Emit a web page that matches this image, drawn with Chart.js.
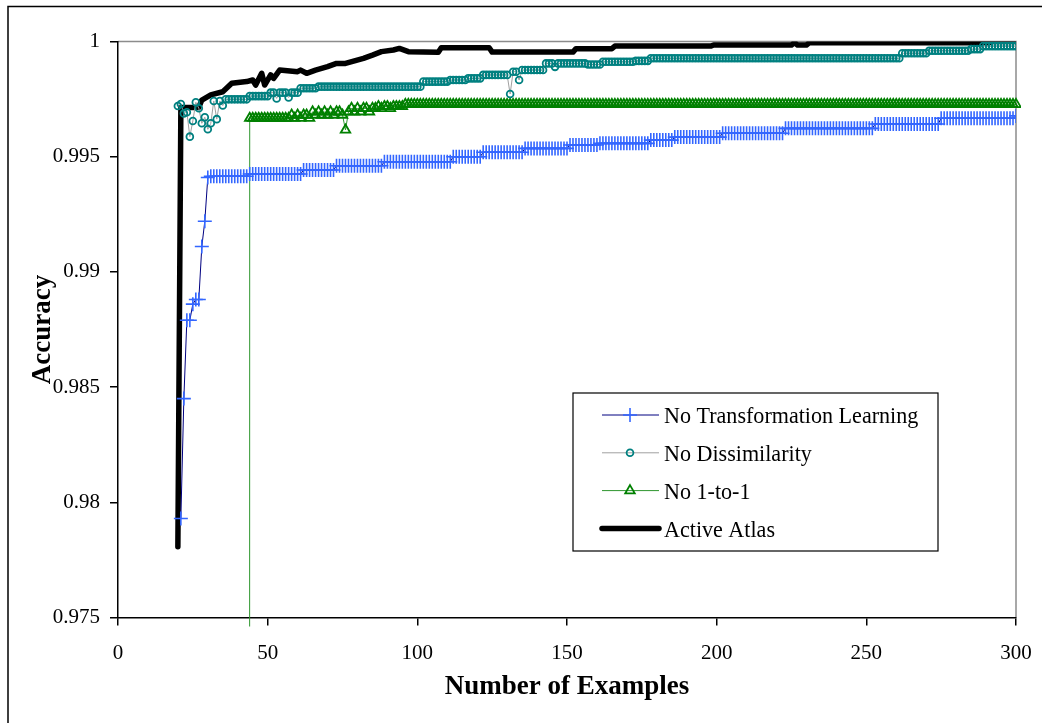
<!DOCTYPE html>
<html>
<head>
<meta charset="utf-8">
<script src="https://cdn.jsdelivr.net/npm/chart.js@4.4.1/dist/chart.umd.min.js"></script>
<style>
  html, body { margin: 0; padding: 0; background: #fff; }
  #myChart { display: block; }
</style>
</head>
<body>
<canvas id="myChart" width="1042" height="723"></canvas>
<script>
var seriesNames = ['No Transformation Learning', 'No Dissimilarity', 'No 1-to-1', 'Active Atlas'];
var xTicks = [0, 50, 100, 150, 200, 250, 300];
var yTicks = [0.975, 0.98, 0.985, 0.99, 0.995, 1];

// marker series: first number of examples, then one accuracy per example
var noTransformationStart = 21;
var noTransformation = [
    0.9793, 0.9845, 0.9879, 0.9879, 0.9886, 0.9888, 0.9888, 0.9911, 0.9922, 0.9941,
    0.99415, 0.99415, 0.99415, 0.99415, 0.99415, 0.99415, 0.99415, 0.99415, 0.99415, 0.99415,
    0.99415, 0.99415, 0.99415, 0.99425, 0.99425, 0.99425, 0.99425, 0.99425, 0.99425, 0.99425,
    0.99425, 0.99425, 0.99425, 0.99425, 0.99425, 0.99425, 0.99425, 0.99425, 0.99425, 0.99425,
    0.99425, 0.99442, 0.99442, 0.99442, 0.99442, 0.99442, 0.99442, 0.99442, 0.99442, 0.99442,
    0.99442, 0.99442, 0.99461, 0.99461, 0.99461, 0.99461, 0.99461, 0.99461, 0.99461, 0.99461,
    0.99461, 0.99461, 0.99461, 0.99461, 0.99461, 0.99461, 0.99461, 0.99461, 0.99478, 0.99478,
    0.99478, 0.99478, 0.99478, 0.99478, 0.99478, 0.99478, 0.99478, 0.99478, 0.99478, 0.99478,
    0.99478, 0.99478, 0.99478, 0.99478, 0.99478, 0.99478, 0.99478, 0.99478, 0.99478, 0.99478,
    0.99478, 0.995, 0.995, 0.995, 0.995, 0.995, 0.995, 0.995, 0.995, 0.995,
    0.995, 0.99519, 0.99519, 0.99519, 0.99519, 0.99519, 0.99519, 0.99519, 0.99519, 0.99519,
    0.99519, 0.99519, 0.99519, 0.99519, 0.99519, 0.99536, 0.99536, 0.99536, 0.99536, 0.99536,
    0.99536, 0.99536, 0.99536, 0.99536, 0.99536, 0.99536, 0.99536, 0.99536, 0.99536, 0.99536,
    0.99551, 0.99551, 0.99551, 0.99551, 0.99551, 0.99551, 0.99551, 0.99551, 0.99551, 0.99551,
    0.99558, 0.99558, 0.99558, 0.99558, 0.99558, 0.99558, 0.99558, 0.99558, 0.99558, 0.99558,
    0.99558, 0.99558, 0.99558, 0.99558, 0.99558, 0.99558, 0.99558, 0.99572, 0.99572, 0.99572,
    0.99572, 0.99572, 0.99572, 0.99572, 0.99572, 0.99585, 0.99585, 0.99585, 0.99585, 0.99585,
    0.99585, 0.99585, 0.99585, 0.99585, 0.99585, 0.99585, 0.99585, 0.99585, 0.99585, 0.99585,
    0.99585, 0.99602, 0.99602, 0.99602, 0.99602, 0.99602, 0.99602, 0.99602, 0.99602, 0.99602,
    0.99602, 0.99602, 0.99602, 0.99602, 0.99602, 0.99602, 0.99602, 0.99602, 0.99602, 0.99602,
    0.99602, 0.99602, 0.99623, 0.99623, 0.99623, 0.99623, 0.99623, 0.99623, 0.99623, 0.99623,
    0.99623, 0.99623, 0.99623, 0.99623, 0.99623, 0.99623, 0.99623, 0.99623, 0.99623, 0.99623,
    0.99623, 0.99623, 0.99623, 0.99623, 0.99623, 0.99623, 0.99623, 0.99623, 0.99623, 0.99623,
    0.99623, 0.99623, 0.99642, 0.99642, 0.99642, 0.99642, 0.99642, 0.99642, 0.99642, 0.99642,
    0.99642, 0.99642, 0.99642, 0.99642, 0.99642, 0.99642, 0.99642, 0.99642, 0.99642, 0.99642,
    0.99642, 0.99642, 0.99642, 0.99642, 0.99667, 0.99667, 0.99667, 0.99667, 0.99667, 0.99667,
    0.99667, 0.99667, 0.99667, 0.99667, 0.99667, 0.99667, 0.99667, 0.99667, 0.99667, 0.99667,
    0.99667, 0.99667, 0.99667, 0.99667, 0.99667, 0.99667, 0.99667, 0.99667, 0.99667, 0.99677
];

var noDissimilarityStart = 20;
var noDissimilarity = [
    0.9972, 0.99729, 0.99688, 0.99693, 0.99587, 0.99655, 0.99736, 0.9971, 0.99645, 0.99671,
    0.99619, 0.99645, 0.99742, 0.99663, 0.99742, 0.99722, 0.99749, 0.99749, 0.99749, 0.99749,
    0.99749, 0.99749, 0.99749, 0.99749, 0.99763, 0.99763, 0.99763, 0.99763, 0.99763, 0.99763,
    0.99763, 0.99778, 0.99778, 0.99753, 0.99778, 0.99778, 0.99778, 0.99757, 0.99778, 0.99778,
    0.99778, 0.99797, 0.99797, 0.99797, 0.99797, 0.99797, 0.99797, 0.99804, 0.99804, 0.99804,
    0.99804, 0.99804, 0.99804, 0.99804, 0.99804, 0.99804, 0.99804, 0.99804, 0.99804, 0.99804,
    0.99804, 0.99804, 0.99804, 0.99804, 0.99804, 0.99804, 0.99804, 0.99804, 0.99804, 0.99804,
    0.99804, 0.99804, 0.99804, 0.99804, 0.99804, 0.99804, 0.99804, 0.99804, 0.99804, 0.99804,
    0.99804, 0.99804, 0.99826, 0.99826, 0.99826, 0.99826, 0.99826, 0.99826, 0.99826, 0.99826,
    0.99826, 0.99833, 0.99833, 0.99833, 0.99833, 0.99833, 0.99833, 0.9984, 0.9984, 0.9984,
    0.9984, 0.9984, 0.99855, 0.99855, 0.99855, 0.99855, 0.99855, 0.99855, 0.99855, 0.99855,
    0.99855, 0.99772, 0.99869, 0.99869, 0.99833, 0.99876, 0.99876, 0.99876, 0.99876, 0.99876,
    0.99876, 0.99876, 0.99876, 0.99905, 0.99905, 0.99905, 0.9989, 0.99905, 0.99905, 0.99905,
    0.99905, 0.99905, 0.99905, 0.99905, 0.99905, 0.99905, 0.99905, 0.999, 0.999, 0.999,
    0.999, 0.999, 0.99912, 0.99912, 0.99912, 0.99912, 0.99912, 0.99912, 0.99912, 0.99912,
    0.99912, 0.99912, 0.99912, 0.99916, 0.99916, 0.99916, 0.99916, 0.99916, 0.99927, 0.99927,
    0.99927, 0.99927, 0.99927, 0.99927, 0.99927, 0.99927, 0.99927, 0.99927, 0.99927, 0.99927,
    0.99927, 0.99927, 0.99927, 0.99927, 0.99927, 0.99927, 0.99927, 0.99927, 0.99927, 0.99927,
    0.99927, 0.99927, 0.99927, 0.99927, 0.99927, 0.99927, 0.99927, 0.99927, 0.99927, 0.99927,
    0.99927, 0.99927, 0.99927, 0.99927, 0.99927, 0.99927, 0.99927, 0.99927, 0.99927, 0.99927,
    0.99927, 0.99927, 0.99927, 0.99927, 0.99927, 0.99927, 0.99927, 0.99927, 0.99927, 0.99927,
    0.99927, 0.99927, 0.99927, 0.99927, 0.99927, 0.99927, 0.99927, 0.99927, 0.99927, 0.99927,
    0.99927, 0.99927, 0.99927, 0.99927, 0.99927, 0.99927, 0.99927, 0.99927, 0.99927, 0.99927,
    0.99927, 0.99927, 0.99927, 0.99927, 0.99927, 0.99927, 0.99927, 0.99927, 0.99927, 0.99927,
    0.99927, 0.99927, 0.99949, 0.99949, 0.99949, 0.99949, 0.99949, 0.99949, 0.99949, 0.99949,
    0.99949, 0.9996, 0.9996, 0.9996, 0.9996, 0.9996, 0.9996, 0.9996, 0.9996, 0.9996,
    0.9996, 0.9996, 0.9996, 0.9996, 0.9996, 0.99967, 0.99967, 0.99967, 0.99967, 0.9998,
    0.9998, 0.9998, 0.9998, 0.9998, 0.9998, 0.9998, 0.9998, 0.9998, 0.9998, 0.9998,
    0.9998
];

var noOneToOneStart = 43;
var noOneToOne = [
    0, 0.99667, 0.99667, 0.99667, 0.99667, 0.99667, 0.99667,
    0.99667, 0.99667, 0.99667, 0.99667, 0.99667, 0.99667, 0.99667, 0.99667, 0.99681, 0.99667,
    0.99681, 0.99667, 0.99681, 0.99681, 0.99667, 0.99695, 0.99681, 0.99695, 0.99681, 0.99695,
    0.99681, 0.99695, 0.99681, 0.99695, 0.99695, 0.99681, 0.99616, 0.99695, 0.9971, 0.99695,
    0.9971, 0.99695, 0.9971, 0.9971, 0.99695, 0.9971, 0.9971, 0.99718, 0.9971, 0.99718,
    0.99718, 0.9971, 0.99718, 0.99718, 0.99718, 0.99718, 0.99727, 0.99727, 0.99727, 0.99727,
    0.99727, 0.99727, 0.99727, 0.99727, 0.99727, 0.99727, 0.99727, 0.99727, 0.99727, 0.99727,
    0.99727, 0.99727, 0.99727, 0.99727, 0.99727, 0.99727, 0.99727, 0.99727, 0.99727, 0.99727,
    0.99727, 0.99727, 0.99727, 0.99727, 0.99727, 0.99727, 0.99727, 0.99727, 0.99727, 0.99727,
    0.99727, 0.99727, 0.99727, 0.99727, 0.99727, 0.99727, 0.99727, 0.99727, 0.99727, 0.99727,
    0.99727, 0.99727, 0.99727, 0.99727, 0.99727, 0.99727, 0.99727, 0.99727, 0.99727, 0.99727,
    0.99727, 0.99727, 0.99727, 0.99727, 0.99727, 0.99727, 0.99727, 0.99727, 0.99727, 0.99727,
    0.99727, 0.99727, 0.99727, 0.99727, 0.99727, 0.99727, 0.99727, 0.99727, 0.99727, 0.99727,
    0.99727, 0.99727, 0.99727, 0.99727, 0.99727, 0.99727, 0.99727, 0.99727, 0.99727, 0.99727,
    0.99727, 0.99727, 0.99727, 0.99727, 0.99727, 0.99727, 0.99727, 0.99727, 0.99727, 0.99727,
    0.99727, 0.99727, 0.99727, 0.99727, 0.99727, 0.99727, 0.99727, 0.99727, 0.99727, 0.99727,
    0.99727, 0.99727, 0.99727, 0.99727, 0.99727, 0.99727, 0.99727, 0.99727, 0.99727, 0.99727,
    0.99727, 0.99727, 0.99727, 0.99727, 0.99727, 0.99727, 0.99727, 0.99727, 0.99727, 0.99727,
    0.99727, 0.99727, 0.99727, 0.99727, 0.99727, 0.99727, 0.99727, 0.99727, 0.99727, 0.99727,
    0.99727, 0.99727, 0.99727, 0.99727, 0.99727, 0.99727, 0.99727, 0.99727, 0.99727, 0.99727,
    0.99727, 0.99727, 0.99727, 0.99727, 0.99727, 0.99727, 0.99727, 0.99727, 0.99727, 0.99727,
    0.99727, 0.99727, 0.99727, 0.99727, 0.99727, 0.99727, 0.99727, 0.99727, 0.99727, 0.99727,
    0.99727, 0.99727, 0.99727, 0.99727, 0.99727, 0.99727, 0.99727, 0.99727, 0.99727, 0.99727,
    0.99727, 0.99727, 0.99727, 0.99727, 0.99727, 0.99727, 0.99727, 0.99727, 0.99727, 0.99727,
    0.99727, 0.99727, 0.99727, 0.99727, 0.99727, 0.99727, 0.99727, 0.99727, 0.99727, 0.99727,
    0.99727, 0.99727, 0.99727, 0.99727, 0.99727, 0.99727, 0.99727, 0.99727, 0.99727, 0.99727,
    0.99727
];

// thick line, no markers: only the points where it changes
var activeAtlasX = [20, 21, 27, 28, 31, 35, 38, 43, 45, 46, 48, 49, 51, 52, 54, 60, 61, 63, 66, 70,
    73, 76, 82, 85, 88, 92, 94, 97, 107, 108, 124, 125, 152, 153, 165, 166, 198, 199, 225, 226,
    227, 230, 231, 291, 292, 300];
var activeAtlasY = [0.97807, 0.99714, 0.99714, 0.99746, 0.99768, 0.99782, 0.99819, 0.99826, 0.99833, 0.99811,
    0.99862, 0.99811, 0.99855, 0.9984, 0.99876, 0.99869, 0.99876, 0.99862, 0.99876, 0.99891,
    0.99905, 0.99905, 0.99927, 0.99941, 0.99956, 0.99963, 0.9997, 0.99956, 0.99953, 0.99973,
    0.99973, 0.99954, 0.99954, 0.99969, 0.99969, 0.9998, 0.9998, 0.99985, 0.99985, 0.99995,
    0.99985, 0.99985, 0.99995, 0.99995, 1, 1];


var toPoints = (start, values) => values.map((v, i) => ({ x: start + i, y: v }));

Chart.defaults.font.family = '"Liberation Serif", "Times New Roman", serif';
Chart.defaults.color = '#000';

// outer frame, grey plot edges and the boxed legend inside the plot
var frameAndLegend = {
    id: 'frameAndLegend',
    beforeDraw: (chart) => {
        const ctx = chart.ctx;
        const a = chart.chartArea;
        ctx.save();
        ctx.fillStyle = '#fff';
        ctx.fillRect(0, 0, chart.width, chart.height);
        ctx.strokeStyle = '#000';
        ctx.lineWidth = 1.5;
        ctx.beginPath();
        ctx.moveTo(8, chart.height);
        ctx.lineTo(8, 6.5);
        ctx.lineTo(chart.width, 6.5);
        ctx.stroke();
        ctx.strokeStyle = '#8c8c8c';
        ctx.lineWidth = 1.5;
        ctx.beginPath();
        ctx.moveTo(a.left, a.top);
        ctx.lineTo(a.right, a.top);
        ctx.lineTo(a.right, a.bottom);
        ctx.stroke();
        ctx.restore();
    },
    afterDraw: (chart) => {
        const ctx = chart.ctx;
        const a = chart.chartArea;
        const bx = a.left + 455, by = a.top + 351.5, bw = 365, bh = 158;
        ctx.save();
        ctx.fillStyle = '#fff';
        ctx.fillRect(bx, by, bw, bh);
        ctx.strokeStyle = '#000';
        ctx.lineWidth = 1.2;
        ctx.strokeRect(bx, by, bw, bh);
        chart.data.datasets.forEach((ds, i) => {
            const cy = by + 22 + i * 37.8;
            ctx.strokeStyle = ds.borderColor;
            ctx.lineWidth = ds.borderWidth;
            ctx.lineCap = ds.borderCapStyle || 'butt';
            ctx.beginPath();
            ctx.moveTo(bx + 29, cy);
            ctx.lineTo(bx + 86, cy);
            ctx.stroke();
            if (ds.pointRadius > 0 && Chart.helpers && Chart.helpers.drawPoint) {
                ctx.strokeStyle = ds.pointBorderColor;
                ctx.fillStyle = ds.pointBackgroundColor;
                ctx.lineWidth = ds.pointBorderWidth;
                ctx.lineCap = 'butt';
                Chart.helpers.drawPoint(ctx, {
                    pointStyle: ds.pointStyle,
                    radius: ds.pointRadius,
                    borderWidth: ds.pointBorderWidth,
                    rotation: 0
                }, bx + 57, cy);
            }
            ctx.fillStyle = '#000';
            ctx.font = '24px "Liberation Serif", "Times New Roman", serif';
            ctx.textBaseline = 'alphabetic';
            ctx.textAlign = 'left';
            ctx.save();
            ctx.translate(bx + 91, cy + 8.3);
            ctx.scale(0.92, 1);
            ctx.fillText(ds.label, 0, 0);
            ctx.restore();
        });
        ctx.restore();
    }
};

var ctx = document.getElementById('myChart').getContext('2d');
var myChart = new Chart(ctx, {
    type: 'line',
    data: {
        datasets: [{
            label: seriesNames[0],
            data: toPoints(noTransformationStart, noTransformation),
            borderColor: '#000080',
            borderWidth: 1,
            pointStyle: 'cross',
            pointRadius: 7,
            pointBorderColor: '#3366ff',
            pointBackgroundColor: '#3366ff',
            pointBorderWidth: 1.6
        },
        {
            label: seriesNames[1],
            data: toPoints(noDissimilarityStart, noDissimilarity),
            borderColor: '#a0a0a0',
            borderWidth: 1,
            pointStyle: 'circle',
            pointRadius: 3.4,
            pointBorderColor: '#008080',
            pointBackgroundColor: 'rgba(0,0,0,0)',
            pointBorderWidth: 1.8
        },
        {
            label: seriesNames[2],
            data: toPoints(noOneToOneStart, noOneToOne),
            borderColor: '#2e962e',
            borderWidth: 1,
            pointStyle: 'triangle',
            pointRadius: 5.5,
            pointBorderColor: '#008000',
            pointBackgroundColor: 'rgba(0,0,0,0)',
            pointBorderWidth: 1.8,
            clip: { left: 5, top: 5, right: 5, bottom: 9 }
        },
        {
            label: seriesNames[3],
            data: activeAtlasX.map((x, i) => ({ x: x, y: activeAtlasY[i] })),
            borderColor: '#000',
            borderWidth: 5.5,
            borderCapStyle: 'round',
            borderJoinStyle: 'round',
            pointRadius: 0
        }]
    },
    options: {
        responsive: false,
        animation: false,
        events: [],
        layout: { padding: { left: 0, right: 26, top: 41.5, bottom: 0 } },
        plugins: {
            legend: { display: false },
            tooltip: { enabled: false }
        },
        scales: {
            x: {
                type: 'linear',
                min: 0,
                max: 300,
                afterBuildTicks: (s) => { s.ticks = xTicks.map(v => ({ value: v })); },
                afterFit: (s) => {
                    s.height = 105.5;
                    s.paddingLeft = 0;
                    s.paddingRight = 0;
                },
                grid: { drawOnChartArea: false, drawTicks: true, tickLength: 8, color: '#000', lineWidth: 1.5 },
                border: { display: true, color: '#000', width: 1.5 },
                ticks: { font: { size: 21 }, padding: 15, maxRotation: 0, callback: (v) => String(v) },
                title: {
                    display: true,
                    text: 'Number of Examples',
                    font: { size: 27, weight: 'bold' },
                    padding: { top: 0, bottom: 20 }
                }
            },
            y: {
                type: 'linear',
                min: 0.975,
                max: 1,
                afterBuildTicks: (s) => { s.ticks = yTicks.map(v => ({ value: v })); },
                afterFit: (s) => {
                    s.width = 118;
                    s.paddingTop = 0;
                    s.paddingBottom = 0;
                },
                grid: { drawOnChartArea: false, drawTicks: true, tickLength: 8, color: '#000', lineWidth: 1.5 },
                border: { display: true, color: '#000', width: 1.5 },
                ticks: { font: { size: 21 }, padding: 10, callback: (v) => String(v) },
                title: {
                    display: true,
                    text: 'Accuracy',
                    font: { size: 27, weight: 'bold' },
                    padding: { top: 27, bottom: 0 }
                }
            }
        }
    },
    plugins: [frameAndLegend]
});
</script>
</body>
</html>
